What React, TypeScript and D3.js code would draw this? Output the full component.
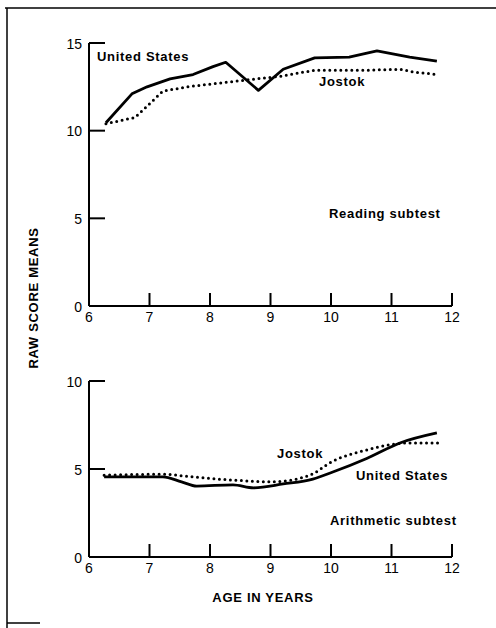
import React from "react";
import * as d3 from "d3";

const xTicks = [6, 7, 8, 9, 10, 11, 12];
const readingYTicks = [0, 5, 10, 15];
const arithYTicks = [0, 5, 10];

const readingUSAge = [6.28, 6.71, 6.96, 7.34, 7.72, 8.05, 8.26, 8.8, 9.21, 9.73, 10.3, 10.76, 11.3, 11.75];
const readingUS = [10.45, 12.1, 12.5, 12.95, 13.2, 13.65, 13.9, 12.3, 13.5, 14.15, 14.2, 14.55, 14.2, 13.97];
const readingJostokAge = [6.28, 6.76, 7.22, 7.62, 8.38, 8.88, 9.16, 9.73, 10.59, 11.14, 11.36, 11.75];
const readingJostok = [10.4, 10.75, 12.25, 12.5, 12.8, 13.0, 13.1, 13.45, 13.45, 13.5, 13.35, 13.2];

const arithUSAge = [6.25, 7.22, 7.53, 7.78, 8.38, 8.72, 9.21, 9.7, 10.03, 10.59, 11.14, 11.75];
const arithUS = [4.55, 4.55, 4.27, 4.03, 4.1, 3.93, 4.15, 4.43, 4.83, 5.6, 6.48, 7.05];
const arithJostokAge = [6.25, 7.22, 7.72, 8.38, 9.04, 9.65, 10.03, 10.59, 11.02, 11.3, 11.8];
const arithJostok = [4.65, 4.7, 4.55, 4.37, 4.27, 4.65, 5.45, 6.08, 6.4, 6.48, 6.48];

const FONT = "'Liberation Sans', Arial, sans-serif";

type PanelProps = {
  yMax: number;
  yTicks: number[];
  y0: number;
  y1: number;
  usAge: number[];
  us: number[];
  jAge: number[];
  j: number[];
  curve: d3.CurveFactory;
  children?: React.ReactNode;
};

const x = d3.scaleLinear().domain([6, 12]).range([89, 452]);

function Panel({ yMax, yTicks, y0, y1, usAge, us, jAge, j, curve, children }: PanelProps) {
  const y = d3.scaleLinear().domain([0, yMax]).range([y0, y1]);
  const line = d3
    .line<[number, number]>()
    .x((d) => x(d[0]))
    .y((d) => y(d[1]))
    .curve(curve);
  const usPts = usAge.map((a, i) => [a, us[i]] as [number, number]);
  const jPts = jAge.map((a, i) => [a, j[i]] as [number, number]);
  return (
    <g>
      <line x1={x(6)} x2={x(6)} y1={y(yMax)} y2={y(0)} stroke="#000" strokeWidth={2} />
      {yTicks.filter((t) => t > 0).map((t) => (
        <line key={"yt" + t} x1={x(6)} x2={x(6) + 16} y1={y(t)} y2={y(t)} stroke="#000" strokeWidth={2} />
      ))}
      {yTicks.map((t) => (
        <text key={"yl" + t} x={x(6) - 7} y={y(t) + 2} textAnchor="end" dominantBaseline="middle" fontSize={14} fontFamily={FONT}>
          {t}
        </text>
      ))}
      <line x1={x(6)} x2={x(12)} y1={y(0)} y2={y(0)} stroke="#000" strokeWidth={2} />
      {xTicks.filter((t) => t > 6).map((t) => (
        <line key={"xt" + t} x1={x(t)} x2={x(t)} y1={y(0)} y2={y(0) - 13} stroke="#000" strokeWidth={2} />
      ))}
      {xTicks.map((t) => (
        <text key={"xl" + t} x={x(t)} y={y(0) + 12} textAnchor="middle" dominantBaseline="middle" fontSize={14} fontFamily={FONT}>
          {t}
        </text>
      ))}
      <path d={line(usPts) || ""} fill="none" stroke="#000" strokeWidth={2.8} strokeLinejoin="round" />
      <path d={line(jPts) || ""} fill="none" stroke="#000" strokeWidth={3} strokeDasharray="0 5.5" strokeLinecap="round" />
      {children}
    </g>
  );
}

export default function App() {
  const textProps = { fontSize: 13, fontFamily: FONT, fontWeight: 700, letterSpacing: 0.7, dominantBaseline: "middle" as const };
  return (
    <svg width={496} height={628} style={{ position: "absolute", left: 0, top: 0, background: "#fff" }}>
      <line x1={5} x2={496} y1={8} y2={8} stroke="#000" strokeWidth={1.5} />
      <line x1={7} x2={7} y1={8} y2={628} stroke="#000" strokeWidth={1.5} />
      <line x1={7} x2={40} y1={623} y2={623} stroke="#000" strokeWidth={1.5} />

      <Panel yMax={15} yTicks={readingYTicks} y0={306} y1={43} usAge={readingUSAge} us={readingUS} jAge={readingJostokAge} j={readingJostok} curve={d3.curveLinear}>
        <text x={97} y={58} {...textProps}>United States</text>
        <text x={319} y={83} {...textProps}>Jostok</text>
        <text x={329} y={215} {...textProps}>Reading subtest</text>
      </Panel>

      <Panel yMax={10} yTicks={arithYTicks} y0={557} y1={381} usAge={arithUSAge} us={arithUS} jAge={arithJostokAge} j={arithJostok} curve={d3.curveMonotoneX}>
        <text x={277} y={455} {...textProps}>Jostok</text>
        <text x={356} y={477} {...textProps}>United States</text>
        <text x={330} y={522} {...textProps}>Arithmetic subtest</text>
      </Panel>

      <text x={263} y={599} textAnchor="middle" {...textProps}>AGE IN YEARS</text>
      <text transform="translate(35,298) rotate(-90)" textAnchor="middle" {...textProps}>RAW SCORE MEANS</text>
    </svg>
  );
}
